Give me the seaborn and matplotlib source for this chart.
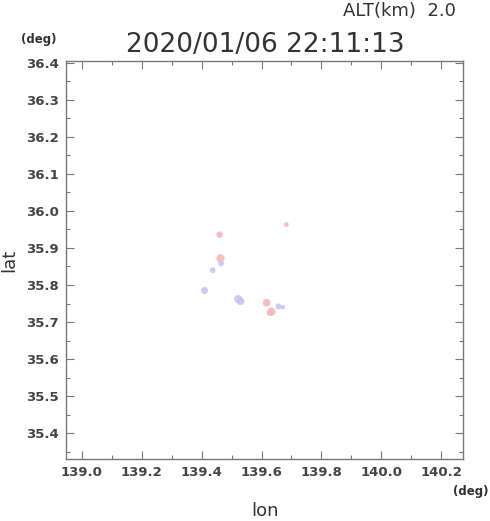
import pandas as pd
import matplotlib.pyplot as plt
import seaborn as sns
from matplotlib.ticker import MultipleLocator

# ---------- DATA ----------
ECHO_LON = [139.460, 139.463, 139.465, 139.437, 139.410, 139.522, 139.530,
            139.617, 139.633, 139.628, 139.657, 139.672, 139.683]
ECHO_LAT = [35.936, 35.872, 35.858, 35.840, 35.785, 35.762, 35.756,
            35.752, 35.728, 35.725, 35.742, 35.740, 35.963]
ECHO_KIND = ["rain", "rain", "weak", "weak", "weak", "weak", "weak",
             "rain", "rain", "rain", "weak", "weak", "rain"]
ECHO_SIZE = [18, 30, 14, 14, 22, 30, 26, 26, 30, 18, 16, 8, 10]

TITLE = "2020/01/06 22:11:13"
ALT_LABEL = "ALT(km)  2.0"

df = pd.DataFrame({"lon": ECHO_LON, "lat": ECHO_LAT,
                   "kind": ECHO_KIND, "size": ECHO_SIZE})

# ---------- PLOT ----------
sns.set_theme(style="white")
plt.rcParams["font.family"] = ["DejaVu Sans"]
TXT = "#333333"

fig = plt.figure(figsize=(4.9, 5.21), dpi=100)
ax = fig.add_axes([66 / 490, 1 - 459 / 521, 397 / 490, 398 / 521])

palette = {"rain": "#f5b5b8", "weak": "#c4c2f2"}
sns.scatterplot(data=df, x="lon", y="lat", hue="kind", size="size",
                sizes=(10, 36), palette=palette, alpha=0.85,
                edgecolor="none", legend=False, ax=ax)

ax.set_xlim(138.947, 140.273)
ax.set_ylim(35.33, 36.405)
ax.xaxis.set_major_locator(MultipleLocator(0.2))
ax.xaxis.set_minor_locator(MultipleLocator(0.1))
ax.yaxis.set_major_locator(MultipleLocator(0.1))
ax.yaxis.set_minor_locator(MultipleLocator(0.05))
ax.xaxis.set_major_formatter(plt.FormatStrFormatter("%.1f"))
ax.yaxis.set_major_formatter(plt.FormatStrFormatter("%.1f"))
ax.tick_params(which="both", direction="in", top=True, right=True,
               bottom=True, left=True, color="#777777", width=0.8)
ax.tick_params(which="major", length=6, labelsize=9.5, labelcolor="#444444",
               pad=5)
ax.tick_params(which="minor", length=3)
for lab in ax.get_xticklabels() + ax.get_yticklabels():
    lab.set_fontweight("bold")
for s in ax.spines.values():
    s.set_color("#777777")
    s.set_linewidth(1.0)

ax.set_xlabel("")
ax.set_ylabel("")
fig.text(265 / 490, 1 - 511 / 521, "lon", fontsize=13, color=TXT,
         ha="center", va="center")
fig.text(9 / 490, 1 - 260 / 521, "lat", fontsize=13, color=TXT,
         ha="center", va="center", rotation=90)

fig.text(265 / 490, 1 - 45 / 521, TITLE, fontsize=19, color=TXT,
         ha="center", va="center")
fig.text(399 / 490, 1 - 11 / 521, ALT_LABEL, fontsize=13, color=TXT,
         ha="center", va="center")
fig.text(39 / 490, 1 - 40 / 521, "(deg)", fontsize=8.5, color=TXT,
         ha="center", va="center", fontweight="bold")
fig.text(471 / 490, 1 - 492 / 521, "(deg)", fontsize=8.5, color=TXT,
         ha="center", va="center", fontweight="bold")

fig.savefig("out.png", dpi=100)
plt.close(fig)
